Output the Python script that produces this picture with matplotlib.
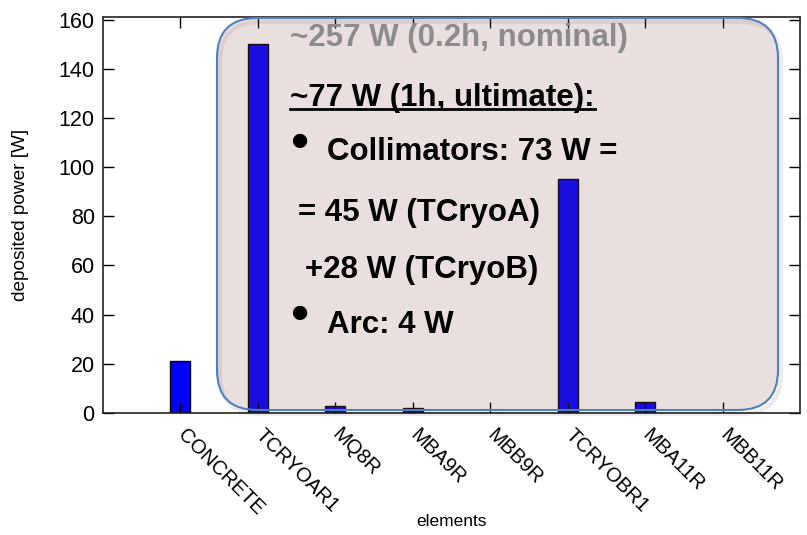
import matplotlib
matplotlib.use("Agg")
import matplotlib.pyplot as plt
from matplotlib.patches import FancyBboxPatch
from matplotlib.lines import Line2D
from matplotlib.transforms import IdentityTransform, ScaledTranslation

elements = ["CONCRETE", "TCRYOAR1", "MQ8R", "MBA9R", "MBB9R",
            "TCRYOBR1", "MBA11R", "MBB11R"]
power = [21, 150, 3, 2, 0, 95, 4.5, 0]
yticks = [0, 20, 40, 60, 80, 100, 120, 140, 160]

plt.rcParams["font.family"] = ["Liberation Sans", "DejaVu Sans"]

fig = plt.figure(figsize=(8.07, 5.35), dpi=100)
ax = fig.add_axes([0.1276, 0.228, 0.8637, 0.740])

pos = list(range(1, len(elements) + 1))
ax.bar(pos, power, width=0.26, color="#0000ff", edgecolor="black", linewidth=1)

ax.set_xlim(0, len(elements) + 1)
ax.set_ylim(0, 161)
ax.set_yticks(yticks)
ax.set_xticks(pos)
ax.set_xticklabels([])
# category labels, shifted a bit to the right of the ticks
shift = ScaledTranslation(7 / 100, -12 / 100, fig.dpi_scale_trans)
for p, name in zip(pos, elements):
    ax.text(p, 0, name, transform=ax.get_xaxis_transform() + shift,
            rotation=-45, ha="left", va="top", rotation_mode="anchor",
            fontsize=14.5, clip_on=False)
ax.tick_params(axis="y", labelsize=15.5, pad=6)
ax.tick_params(direction="in", length=8, top=True, right=True, width=1)
ax.set_ylabel("deposited power [W]", fontsize=13.7, labelpad=21)
ax.set_xlabel("elements", fontsize=12.5)
ax.xaxis.set_label_coords(0.5, -0.255)
for s in ax.spines.values():
    s.set_linewidth(1.2)
    s.set_color("#222222")

# annotation box (pixel coords)
ident = IdentityTransform()
x0, y0, w, h = 217, 535 - 410, 561, 392
shadow = FancyBboxPatch((x0 + 3, y0 - 4), w, h,
                        boxstyle="round,pad=0,rounding_size=40",
                        transform=ident, facecolor="none", alpha=0.08,
                        edgecolor="#000000", linewidth=3, zorder=5)
box = FancyBboxPatch((x0, y0), w, h,
                     boxstyle="round,pad=0,rounding_size=40",
                     transform=ident, facecolor="#904e53", alpha=0.18,
                     edgecolor="none", zorder=6)
edge = FancyBboxPatch((x0, y0), w, h,
                      boxstyle="round,pad=0,rounding_size=40",
                      transform=ident, facecolor="none",
                      edgecolor="#4f81bd", linewidth=1.5, zorder=7)
for p in (shadow, box, edge):
    fig.patches.append(p)
    p.set_figure(fig)


def txt(x, y, s, color="black", size=22.5, ha="left"):
    return fig.text(x, 535 - y, s, transform=ident, fontsize=size,
                    fontweight="bold", color=color, ha=ha, va="center",
                    zorder=10)


txt(290, 38, "~257 W (0.2h, nominal)", color="#8c8c8c")
t2 = txt(290, 98, "~77 W (1h, ultimate):")
txt(299, 142, "\u25CF", size=24, ha="center")
txt(327, 152, "Collimators: 73 W =")
txt(298, 213, "= 45 W (TCryoA)")
txt(305, 270, "+28 W (TCryoB)")
txt(299, 313, "\u25CF", size=24, ha="center")
txt(327, 325, "Arc: 4 W")

fig.canvas.draw()
bb = t2.get_window_extent()
ul = Line2D([bb.x0, bb.x1], [535 - 109, 535 - 109], transform=ident,
            color="black", linewidth=2, zorder=10)
fig.lines.append(ul)

fig.savefig("out.png", dpi=100)
